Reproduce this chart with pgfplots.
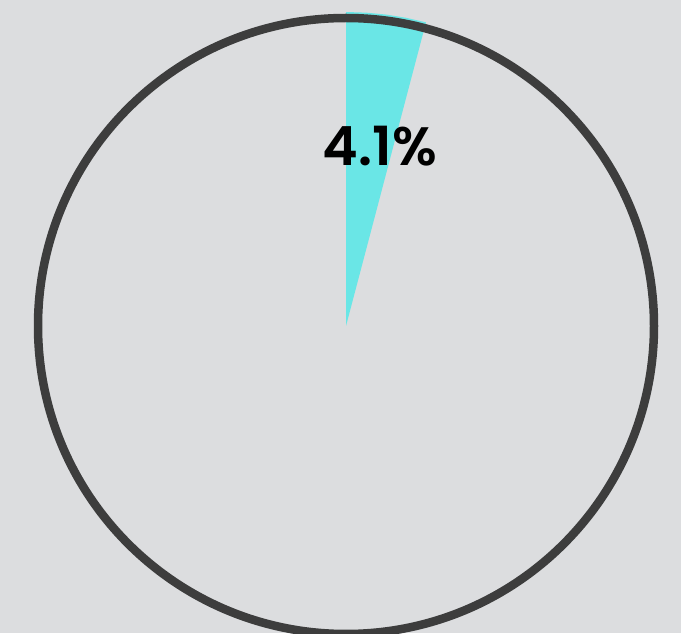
\documentclass[border=0pt]{standalone}
\usepackage{pgfplots}
\pgfplotsset{compat=1.18}
\usepackage{fontspec}
\newfontfamily\labelfont{Poppins SemiBold}
\definecolor{bgcol}{HTML}{DCDDDF}
\definecolor{rimcol}{HTML}{3D3D3D}
\definecolor{wedgecol}{HTML}{6AE6E6}
\begin{document}
\begin{tikzpicture}
\begin{axis}[
  scale only axis, width=681pt, height=633pt,
  xmin=-346, xmax=335, ymin=-307, ymax=326,
  hide axis, clip=true,
]
\fill[bgcol] (rel axis cs:0,0) rectangle (rel axis cs:1,1);
% wedge: 4.1% of the circle, clockwise from 12 o'clock (radius 314)
\addplot[fill=wedgecol, draw=none] coordinates {
  (0,0) (0,314) (20.21,313.35) (40.33,311.40) (60.29,308.16) (80.00,303.64) (0,0)
} \closedcycle;
\draw[rimcol, line width=8.5pt] (axis cs:0,0) circle[radius=308];
\node[anchor=base, font=\labelfont\fontsize{54}{60}\selectfont, text=black]
  at (axis cs:34,160) {4.1\%};
\end{axis}
\end{tikzpicture}
\end{document}
